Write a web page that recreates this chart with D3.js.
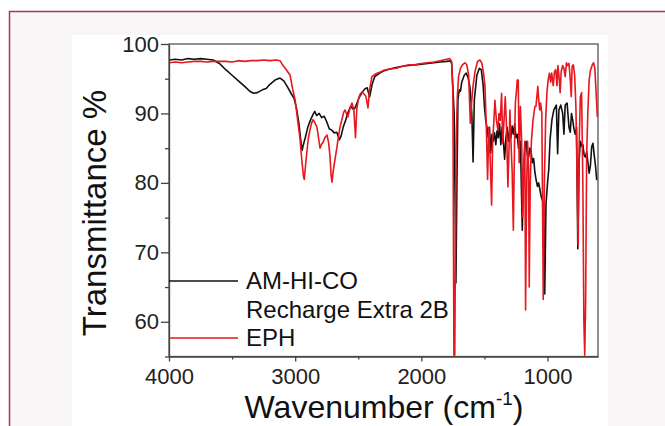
<!DOCTYPE html>
<html>
<head>
<meta charset="utf-8">
<script src="https://cdn.jsdelivr.net/npm/d3@7"></script>
<style>
  html, body { margin: 0; padding: 0; background: #ffffff; }
  svg { display: block; font-family: "Liberation Sans", Arial, sans-serif; }
</style>
</head>
<body>
<svg id="chart" width="665" height="426"></svg>
<script>
// FTIR spectra: [wavenumber cm-1, transmittance %]
const amHiCo = [
  [4000, 97.7], [3950, 97.8], [3900, 97.7], [3850, 97.9], [3800, 97.8], [3750, 97.9],
  [3700, 97.8], [3650, 97.7], [3600, 97.2], [3550, 96.3], [3500, 95.5], [3450, 94.7],
  [3400, 93.9], [3360, 93.2], [3330, 92.9], [3300, 93.0], [3260, 93.4], [3230, 93.6],
  [3200, 94.2], [3160, 94.8], [3120, 95.1], [3090, 94.7], [3060, 93.8], [3030, 92.8],
  [3010, 92.2], [2990, 90.8], [2970, 88.5], [2955, 86.0], [2945, 84.7], [2935, 85.5],
  [2920, 86.5], [2900, 88.0], [2880, 89.0], [2860, 89.8], [2845, 90.3], [2830, 89.7],
  [2810, 90.0], [2790, 89.4], [2770, 89.6], [2750, 88.8], [2730, 87.8], [2710, 87.6],
  [2690, 87.2], [2670, 87.3], [2650, 86.2], [2635, 86.8], [2620, 88.0], [2600, 89.0],
  [2580, 90.2], [2560, 91.0], [2540, 90.6], [2525, 90.8], [2510, 91.5], [2490, 92.4],
  [2470, 93.0], [2450, 93.5], [2430, 93.7], [2410, 92.4], [2390, 94.2], [2370, 95.3],
  [2330, 95.8], [2300, 96.1], [2250, 96.4], [2200, 96.6], [2150, 96.8], [2100, 96.9],
  [2050, 97.0], [2000, 97.1], [1950, 97.2], [1900, 97.3], [1850, 97.4], [1800, 97.5],
  [1770, 97.6], [1760, 97.2], [1752, 94.4], [1740, 90.0], [1726, 65.6], [1718, 80.0],
  [1710, 92.0], [1700, 93.4], [1690, 93.2], [1680, 94.5], [1660, 95.5], [1645, 95.8],
  [1630, 95.2], [1615, 93.8], [1600, 90.0], [1590, 83.0], [1580, 92.0], [1560, 95.5],
  [1540, 96.5], [1525, 96.3], [1510, 94.0], [1500, 91.0], [1490, 89.0], [1480, 88.0],
  [1470, 86.5], [1460, 88.0], [1450, 84.3], [1440, 87.0], [1430, 86.0], [1420, 87.2],
  [1410, 85.5], [1400, 87.5], [1390, 86.5], [1380, 88.5], [1370, 85.5], [1360, 88.0],
  [1350, 86.0], [1340, 83.4], [1330, 86.5], [1320, 88.0], [1310, 86.0], [1300, 87.5],
  [1290, 86.5], [1280, 88.2], [1270, 87.0], [1260, 88.5], [1250, 86.5], [1240, 87.0],
  [1230, 85.0], [1215, 86.0], [1200, 73.2], [1190, 81.0], [1180, 85.0], [1170, 86.0],
  [1160, 84.0], [1150, 83.7], [1140, 85.0], [1130, 84.5], [1120, 82.9], [1110, 83.5],
  [1100, 81.5], [1090, 80.4], [1080, 79.5], [1070, 80.0], [1060, 79.0], [1050, 78.0],
  [1040, 77.5], [1030, 76.6], [1022, 64.0], [1012, 77.0], [1000, 80.0], [990, 82.0],
  [980, 86.2], [965, 89.1], [950, 90.5], [930, 91.2], [920, 84.2], [910, 90.5],
  [895, 91.2], [880, 90.0], [870, 87.0], [860, 91.2], [845, 91.5], [830, 88.0],
  [820, 87.3], [810, 90.0], [800, 89.0], [790, 87.7], [780, 87.0], [770, 88.0],
  [760, 70.5], [750, 83.0], [740, 86.0], [730, 85.3], [720, 85.5], [710, 84.0],
  [700, 83.7], [690, 84.5], [680, 83.0], [670, 81.4], [660, 82.5], [650, 85.2],
  [640, 85.7], [630, 84.0], [620, 82.5], [610, 80.4]
];

const eph = [
  [4000, 97.3], [3950, 97.4], [3900, 97.3], [3850, 97.4], [3800, 97.5], [3750, 97.5],
  [3700, 97.4], [3650, 97.5], [3600, 97.5], [3550, 97.5], [3500, 97.4], [3450, 97.6],
  [3400, 97.5], [3350, 97.6], [3300, 97.6], [3250, 97.7], [3200, 97.6], [3150, 97.7],
  [3120, 97.6], [3100, 97.0], [3070, 96.3], [3040, 95.5], [3020, 93.5], [3000, 91.9],
  [2980, 89.0], [2962, 86.4], [2950, 83.8], [2935, 81.0], [2928, 80.5], [2918, 82.5],
  [2906, 84.7], [2895, 86.5], [2883, 87.6], [2870, 88.6], [2859, 89.1], [2845, 88.7],
  [2827, 88.0], [2815, 86.5], [2803, 85.0], [2790, 85.6], [2780, 85.8], [2765, 86.5],
  [2748, 86.9], [2735, 85.8], [2724, 83.8], [2715, 81.0], [2708, 80.1], [2700, 81.5],
  [2685, 83.3], [2670, 85.0], [2661, 86.2], [2645, 88.0], [2630, 89.1], [2615, 90.2],
  [2605, 90.5], [2590, 89.8], [2582, 89.5], [2565, 90.8], [2550, 91.5], [2535, 90.5],
  [2522, 86.5], [2512, 90.5], [2500, 92.0], [2485, 92.8], [2470, 93.1], [2455, 92.8],
  [2440, 92.5], [2423, 90.8], [2410, 93.5], [2392, 95.3], [2370, 95.6], [2350, 95.8],
  [2320, 96.0], [2300, 96.2], [2250, 96.4], [2200, 96.5], [2150, 96.8], [2100, 97.0],
  [2050, 97.0], [2000, 97.2], [1950, 97.3], [1900, 97.4], [1850, 97.6], [1800, 97.8],
  [1775, 97.9], [1760, 97.5], [1750, 93.0], [1742, 55.2], [1735, 55.2], [1725, 85.0],
  [1715, 92.4], [1705, 95.3], [1690, 96.5], [1675, 97.0], [1655, 97.3], [1640, 97.0],
  [1625, 95.5], [1612, 88.6], [1600, 92.0], [1590, 94.0], [1575, 96.0], [1555, 97.5],
  [1536, 97.7], [1520, 97.2], [1505, 95.5], [1496, 94.0], [1485, 88.0], [1475, 80.5],
  [1465, 88.0], [1455, 83.8], [1443, 76.8], [1435, 86.0], [1425, 89.0], [1417, 91.9],
  [1405, 89.0], [1393, 87.6], [1385, 90.0], [1375, 89.0], [1364, 92.9], [1355, 85.7],
  [1345, 89.0], [1335, 92.4], [1325, 88.0], [1314, 79.4], [1305, 85.0], [1298, 90.5],
  [1290, 86.0], [1280, 81.5], [1271, 73.2], [1262, 85.0], [1255, 91.5], [1245, 93.5],
  [1240, 94.8], [1232, 94.8], [1225, 82.9], [1215, 91.0], [1205, 86.0], [1197, 75.1],
  [1188, 83.0], [1180, 86.0], [1174, 61.7], [1165, 80.0], [1158, 86.0], [1150, 82.0],
  [1145, 65.0], [1137, 80.0], [1128, 86.0], [1115, 89.0], [1100, 91.0], [1092, 91.0],
  [1084, 92.5], [1077, 93.9], [1070, 92.0], [1062, 90.5], [1055, 91.5], [1045, 90.0],
  [1034, 63.2], [1025, 80.0], [1015, 89.0], [1005, 93.0], [995, 94.8], [985, 95.8],
  [975, 94.5], [967, 95.8], [955, 94.0], [945, 96.0], [935, 96.3], [925, 94.0],
  [918, 96.9], [910, 95.5], [900, 93.0], [892, 96.0], [880, 96.9], [870, 96.5],
  [860, 95.3], [850, 97.3], [840, 96.9], [830, 97.2], [820, 95.0], [812, 92.4],
  [805, 96.8], [795, 97.0], [785, 95.5], [775, 91.0], [765, 80.0], [757, 71.0],
  [750, 85.0], [740, 92.4], [730, 93.0], [720, 80.0], [712, 60.0], [705, 55.2],
  [698, 63.0], [690, 84.0], [680, 90.5], [670, 94.8], [660, 96.2], [645, 97.0],
  [635, 97.3], [625, 96.5], [615, 93.0], [605, 89.5]
];

const xMajor = [4000, 3000, 2000, 1000];
const xMinor = [3500, 2500, 1500];
const yMajor = [60, 70, 80, 90, 100];
const yMinor = [55, 65, 75, 85, 95];
const legendLabels = [["AM-HI-CO", "Recharge Extra 2B"], ["EPH"]];

const svg = d3.select("#chart");
const width = +svg.attr("width");
const height = +svg.attr("height");
const plot = { left: 169, right: 598, top: 44, bottom: 356.5 };

// page frame
svg.append("rect").attr("x", 9).attr("y", 11).attr("width", width).attr("height", height)
  .attr("fill", "#f8f6f7");
svg.append("rect").attr("x", 72).attr("y", 35).attr("width", 536).attr("height", height - 35)
  .attr("fill", "#ffffff");
svg.append("path")
  .attr("d", `M9.5,${height}V11.5H${width}`)
  .attr("fill", "none").attr("stroke", "#b3324f").attr("stroke-width", 1.5);

const x = d3.scaleLinear().domain([4000, 600]).range([plot.left, plot.right]);
const y = d3.scaleLinear().domain([55, 100]).range([plot.bottom, plot.top]);

svg.append("defs").append("clipPath").attr("id", "clip")
  .append("rect")
  .attr("x", plot.left).attr("y", plot.top)
  .attr("width", plot.right - plot.left).attr("height", plot.bottom - plot.top);

// box
svg.append("rect")
  .attr("x", plot.left).attr("y", plot.top)
  .attr("width", plot.right - plot.left).attr("height", plot.bottom - plot.top)
  .attr("fill", "none").attr("stroke", "#555").attr("stroke-width", 1.3);

/* spectra */
const line = d3.line().x(d => x(d[0])).y(d => y(d[1]));

svg.append("path").datum(amHiCo)
  .attr("clip-path", "url(#clip)")
  .attr("fill", "none").attr("stroke", "#111").attr("stroke-width", 1.6)
  .attr("stroke-linejoin", "round").attr("d", line);

svg.append("path").datum(eph)
  .attr("clip-path", "url(#clip)")
  .attr("fill", "none").attr("stroke", "#e8161e").attr("stroke-width", 1.6)
  .attr("stroke-linejoin", "round").attr("d", line);

/* axes */
function styleAxis(g) {
  g.select(".domain").attr("stroke", "#444").attr("stroke-width", 1.3);
  g.selectAll(".tick line").attr("stroke", "#444").attr("stroke-width", 1.3);
  g.selectAll(".tick text").attr("fill", "#222")
    .style("font-family", "'Liberation Sans', Arial, sans-serif").style("font-size", "22px");
}

svg.append("g")
  .attr("transform", `translate(${plot.left},0)`)
  .call(d3.axisLeft(y).tickValues(yMinor).tickSize(4).tickFormat(""))
  .call(g => g.select(".domain").remove())
  .call(styleAxis);

svg.append("g")
  .attr("transform", `translate(${plot.left},0)`)
  .call(d3.axisLeft(y).tickValues(yMajor).tickSize(8).tickPadding(2).tickSizeOuter(0))
  .call(styleAxis);

svg.append("g")
  .attr("transform", `translate(0,${plot.bottom})`)
  .call(d3.axisBottom(x).tickValues(xMinor).tickSize(3).tickFormat(""))
  .call(g => g.select(".domain").remove())
  .call(styleAxis);

svg.append("g")
  .attr("transform", `translate(0,${plot.bottom})`)
  .call(d3.axisBottom(x).tickValues(xMajor).tickSize(5).tickPadding(7).tickSizeOuter(0)
    .tickFormat(d3.format("d")))
  .call(styleAxis);

/* titles */
const xt = svg.append("text")
  .attr("x", 384).attr("y", 418)
  .attr("text-anchor", "middle")
  .attr("fill", "#111").style("font-size", "32px")
  .text("Wavenumber (cm");
xt.append("tspan").attr("dy", -13).style("font-size", "19px").text("-1");
xt.append("tspan").attr("dy", 13).text(")");

svg.append("text")
  .attr("transform", "translate(106,213) rotate(-90)")
  .attr("text-anchor", "middle")
  .attr("fill", "#111").style("font-size", "33px")
  .text("Transmittance %");

/* legend */
const legend = svg.append("g");
const legendColors = ["#111", "#e8161e"];
const legendY = [281, 338];
legendLabels.forEach((lines, i) => {
  legend.append("line")
    .attr("x1", plot.left).attr("x2", 238)
    .attr("y1", legendY[i]).attr("y2", legendY[i])
    .attr("stroke", legendColors[i]).attr("stroke-width", 1.6);
  lines.forEach((t, j) => {
    legend.append("text")
      .attr("x", 246).attr("y", legendY[i] + 8 + j * 29)
      .attr("fill", "#111").style("font-size", "24px")
      .text(t);
  });
});
</script>
</body>
</html>
